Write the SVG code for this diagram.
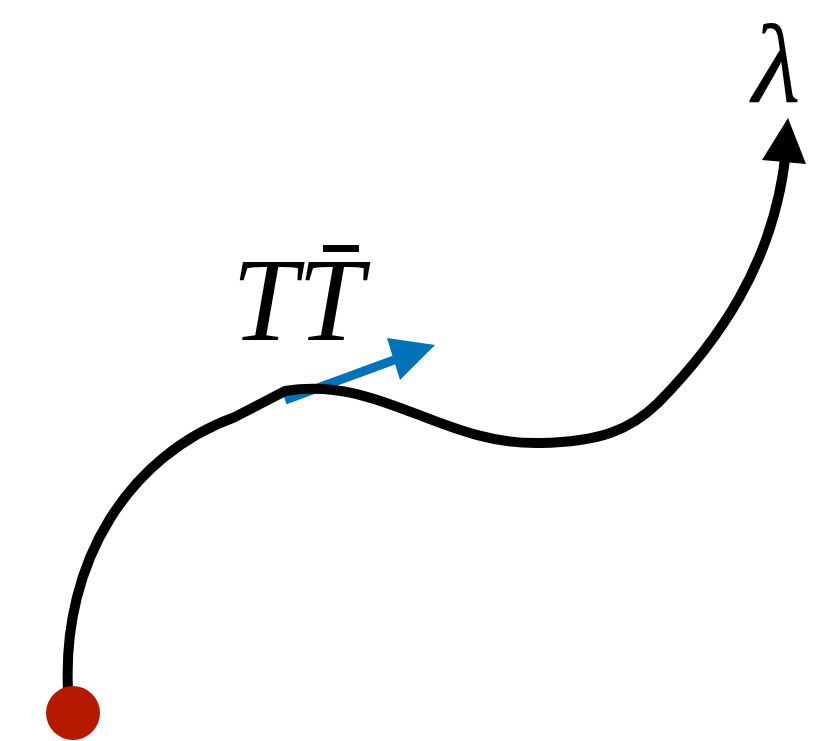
<svg xmlns="http://www.w3.org/2000/svg" width="815" height="741" viewBox="0 0 815 741">
<style>
.lbl{font-family:"Liberation Serif","Times New Roman",serif;font-style:italic;fill:#000}
</style>
<rect width="815" height="741" fill="#fff"/>
<g id="connectors">
<path d="M285,400 L405,356" stroke="#0072b9" stroke-width="9" fill="none"/>
<polygon points="435,345 387,338 400,380" fill="#0072b9"/>
<path d="M68,690 C62,560 130,455 235,417 L285,391 C380,375 440,445 540,443 C600,442 630,430 658,403 C715,345 775,265 786,150" stroke="#000" stroke-width="10" fill="none" stroke-linejoin="miter"/>
<polygon points="788,118 762,160 806,164" fill="#000"/>
</g>
<g id="start"><circle cx="73" cy="713" r="27" fill="#b51a00"/></g>
<g id="label-lambda"><text class="lbl" x="752" y="102" font-size="112">λ</text></g>
<g id="label-tt"><text class="lbl" x="232" y="340" font-size="118">TT</text><rect x="323" y="245" width="36" height="7" fill="#000"/></g>
</svg>
